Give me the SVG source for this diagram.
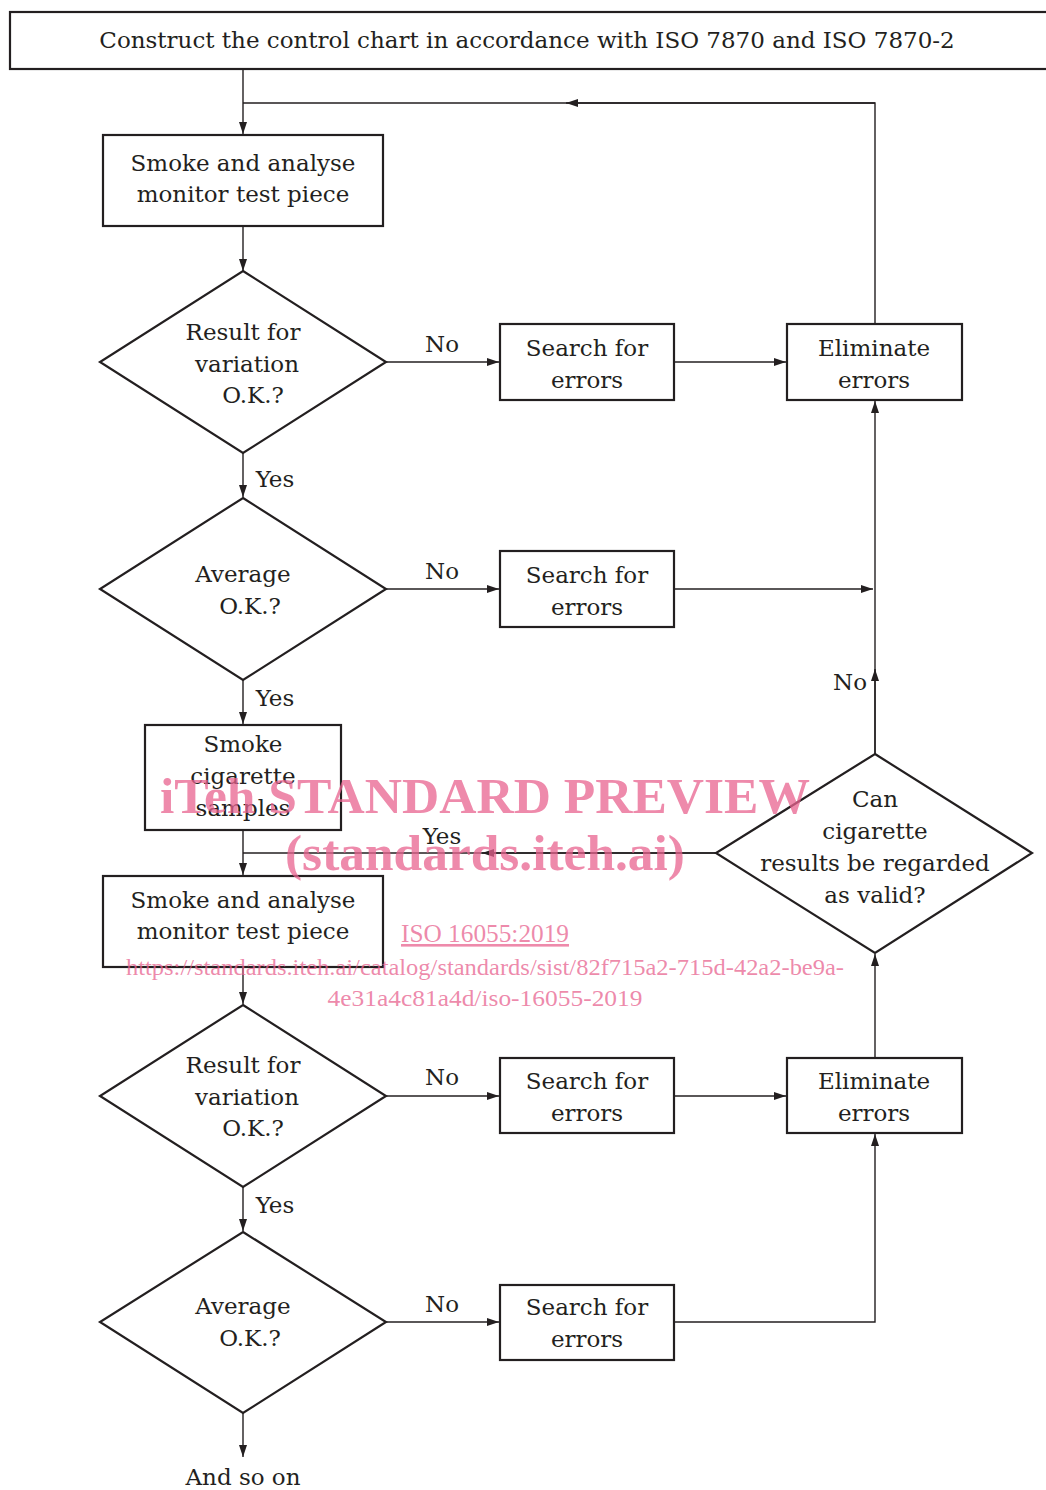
<svg xmlns="http://www.w3.org/2000/svg" width="1046" height="1490" viewBox="0 0 1046 1490">
<defs>
<marker id="ah" viewBox="0 0 12 8" refX="12" refY="4" markerWidth="12" markerHeight="8" markerUnits="userSpaceOnUse" orient="auto">
<path d="M0,0 L12,4 L0,8 z" fill="#231f20"/>
</marker>
<style>
.box{fill:#fff;stroke:#231f20;stroke-width:2.2}
.t{font-family:"DejaVu Serif",serif;font-size:23px;fill:#231f20;text-anchor:middle}
.c{fill:none;stroke:#231f20;stroke-width:1.4}
.a{fill:none;stroke:#231f20;stroke-width:1.4;marker-end:url(#ah)}
.w{font-family:"Liberation Serif",serif;fill:#e8638f;fill-opacity:0.75;text-anchor:middle}
</style>
</defs>
<rect width="1046" height="1490" fill="#fff"/>
<g id="connectors">
<line class="a" x1="243" y1="69" x2="243" y2="134"/>
<polyline class="c" points="875,324 875,103 243,103"/>
<line class="a" x1="875" y1="103" x2="566" y2="103"/>
<line class="a" x1="243" y1="226" x2="243" y2="271"/>
<line class="a" x1="386" y1="362" x2="499" y2="362"/>
<line class="a" x1="674" y1="362" x2="786" y2="362"/>
<line class="a" x1="243" y1="453" x2="243" y2="497"/>
<line class="a" x1="386" y1="589" x2="499" y2="589"/>
<line class="a" x1="674" y1="589" x2="873" y2="589"/>
<line class="a" x1="875" y1="754" x2="875" y2="401"/>
<line class="a" x1="875" y1="754" x2="875" y2="669"/>
<line class="a" x1="243" y1="680" x2="243" y2="724"/>
<line class="a" x1="243" y1="830" x2="243" y2="875"/>
<line class="c" x1="716" y1="853" x2="243" y2="853"/>
<line class="a" x1="716" y1="853" x2="482" y2="853"/>
<line class="a" x1="875" y1="1057" x2="875" y2="954"/>
<line class="a" x1="243" y1="967" x2="243" y2="1004"/>
<line class="a" x1="386" y1="1096" x2="499" y2="1096"/>
<line class="a" x1="674" y1="1096" x2="786" y2="1096"/>
<line class="a" x1="243" y1="1187" x2="243" y2="1231"/>
<line class="a" x1="386" y1="1322" x2="499" y2="1322"/>
<polyline class="a" points="674,1322 875,1322 875,1134"/>
<line class="a" x1="243" y1="1413" x2="243" y2="1457"/>
<text class="t" x="442" y="352">No</text>
<text class="t" x="275" y="487">Yes</text>
<text class="t" x="442" y="579">No</text>
<text class="t" x="275" y="706">Yes</text>
<text class="t" x="850" y="690">No</text>
<text class="t" x="442" y="844">Yes</text>
<text class="t" x="442" y="1085">No</text>
<text class="t" x="275" y="1213">Yes</text>
<text class="t" x="442" y="1312">No</text>
</g>
<g id="n-construct">
<rect class="box" x="10" y="12" width="1040" height="57"/>
<text class="t" x="527" y="48">Construct the control chart in accordance with ISO 7870 and ISO 7870-2</text>
</g>
<g id="n-smoke1">
<rect class="box" x="103" y="135" width="280" height="91"/>
<text class="t" x="243" y="171">Smoke and analyse</text>
<text class="t" x="243" y="202">monitor test piece</text>
</g>
<g id="n-var1">
<polygon class="box" points="243,271 386,362 243,453 100,362"/>
<text class="t" x="243" y="340">Result for</text>
<text class="t" x="247" y="372">variation</text>
<text class="t" x="253" y="403">O.K.?</text>
</g>
<g id="n-search1">
<rect class="box" x="500" y="324" width="174" height="76"/>
<text class="t" x="587" y="356">Search for</text>
<text class="t" x="587" y="388">errors</text>
</g>
<g id="n-elim1">
<rect class="box" x="787" y="324" width="175" height="76"/>
<text class="t" x="874" y="356">Eliminate</text>
<text class="t" x="874" y="388">errors</text>
</g>
<g id="n-avg1">
<polygon class="box" points="243,498 386,589 243,680 100,589"/>
<text class="t" x="243" y="582">Average</text>
<text class="t" x="250" y="614">O.K.?</text>
</g>
<g id="n-search2">
<rect class="box" x="500" y="551" width="174" height="76"/>
<text class="t" x="587" y="583">Search for</text>
<text class="t" x="587" y="615">errors</text>
</g>
<g id="n-samples">
<rect class="box" x="145" y="725" width="196" height="105"/>
<text class="t" x="243" y="752">Smoke</text>
<text class="t" x="243" y="784">cigarette</text>
<text class="t" x="243" y="816">samples</text>
</g>
<g id="n-valid">
<polygon class="box" points="875,754 1032,853 875,953 716,853"/>
<text class="t" x="875" y="807">Can</text>
<text class="t" x="875" y="839">cigarette</text>
<text class="t" x="875" y="871">results be regarded</text>
<text class="t" x="875" y="903">as valid?</text>
</g>
<g id="n-smoke2">
<rect class="box" x="103" y="876" width="280" height="91"/>
<text class="t" x="243" y="908">Smoke and analyse</text>
<text class="t" x="243" y="939">monitor test piece</text>
</g>
<g id="n-var2">
<polygon class="box" points="243,1005 386,1096 243,1187 100,1096"/>
<text class="t" x="243" y="1073">Result for</text>
<text class="t" x="247" y="1105">variation</text>
<text class="t" x="253" y="1136">O.K.?</text>
</g>
<g id="n-search3">
<rect class="box" x="500" y="1058" width="174" height="75"/>
<text class="t" x="587" y="1089">Search for</text>
<text class="t" x="587" y="1121">errors</text>
</g>
<g id="n-elim2">
<rect class="box" x="787" y="1058" width="175" height="75"/>
<text class="t" x="874" y="1089">Eliminate</text>
<text class="t" x="874" y="1121">errors</text>
</g>
<g id="n-avg2">
<polygon class="box" points="243,1232 386,1322 243,1413 100,1322"/>
<text class="t" x="243" y="1314">Average</text>
<text class="t" x="250" y="1346">O.K.?</text>
</g>
<g id="n-search4">
<rect class="box" x="500" y="1285" width="174" height="75"/>
<text class="t" x="587" y="1315">Search for</text>
<text class="t" x="587" y="1347">errors</text>
</g>
<g id="n-end">
<text class="t" x="243" y="1485">And so on</text>
</g>
<g id="watermark">
<text class="w" x="485" y="813" font-size="50" font-weight="bold" textLength="650" lengthAdjust="spacingAndGlyphs">iTeh STANDARD PREVIEW</text>
<text class="w" x="485" y="870" font-size="50" font-weight="bold" textLength="400" lengthAdjust="spacingAndGlyphs">(standards.iteh.ai)</text>
<text class="w" x="485" y="942" font-size="26" text-decoration="underline" textLength="168" lengthAdjust="spacingAndGlyphs">ISO 16055:2019</text>
<text class="w" x="485" y="975" font-size="24" textLength="718" lengthAdjust="spacingAndGlyphs">https://standards.iteh.ai/catalog/standards/sist/82f715a2-715d-42a2-be9a-</text>
<text class="w" x="485" y="1006" font-size="24" textLength="315" lengthAdjust="spacingAndGlyphs">4e31a4c81a4d/iso-16055-2019</text>
</g>
</svg>
